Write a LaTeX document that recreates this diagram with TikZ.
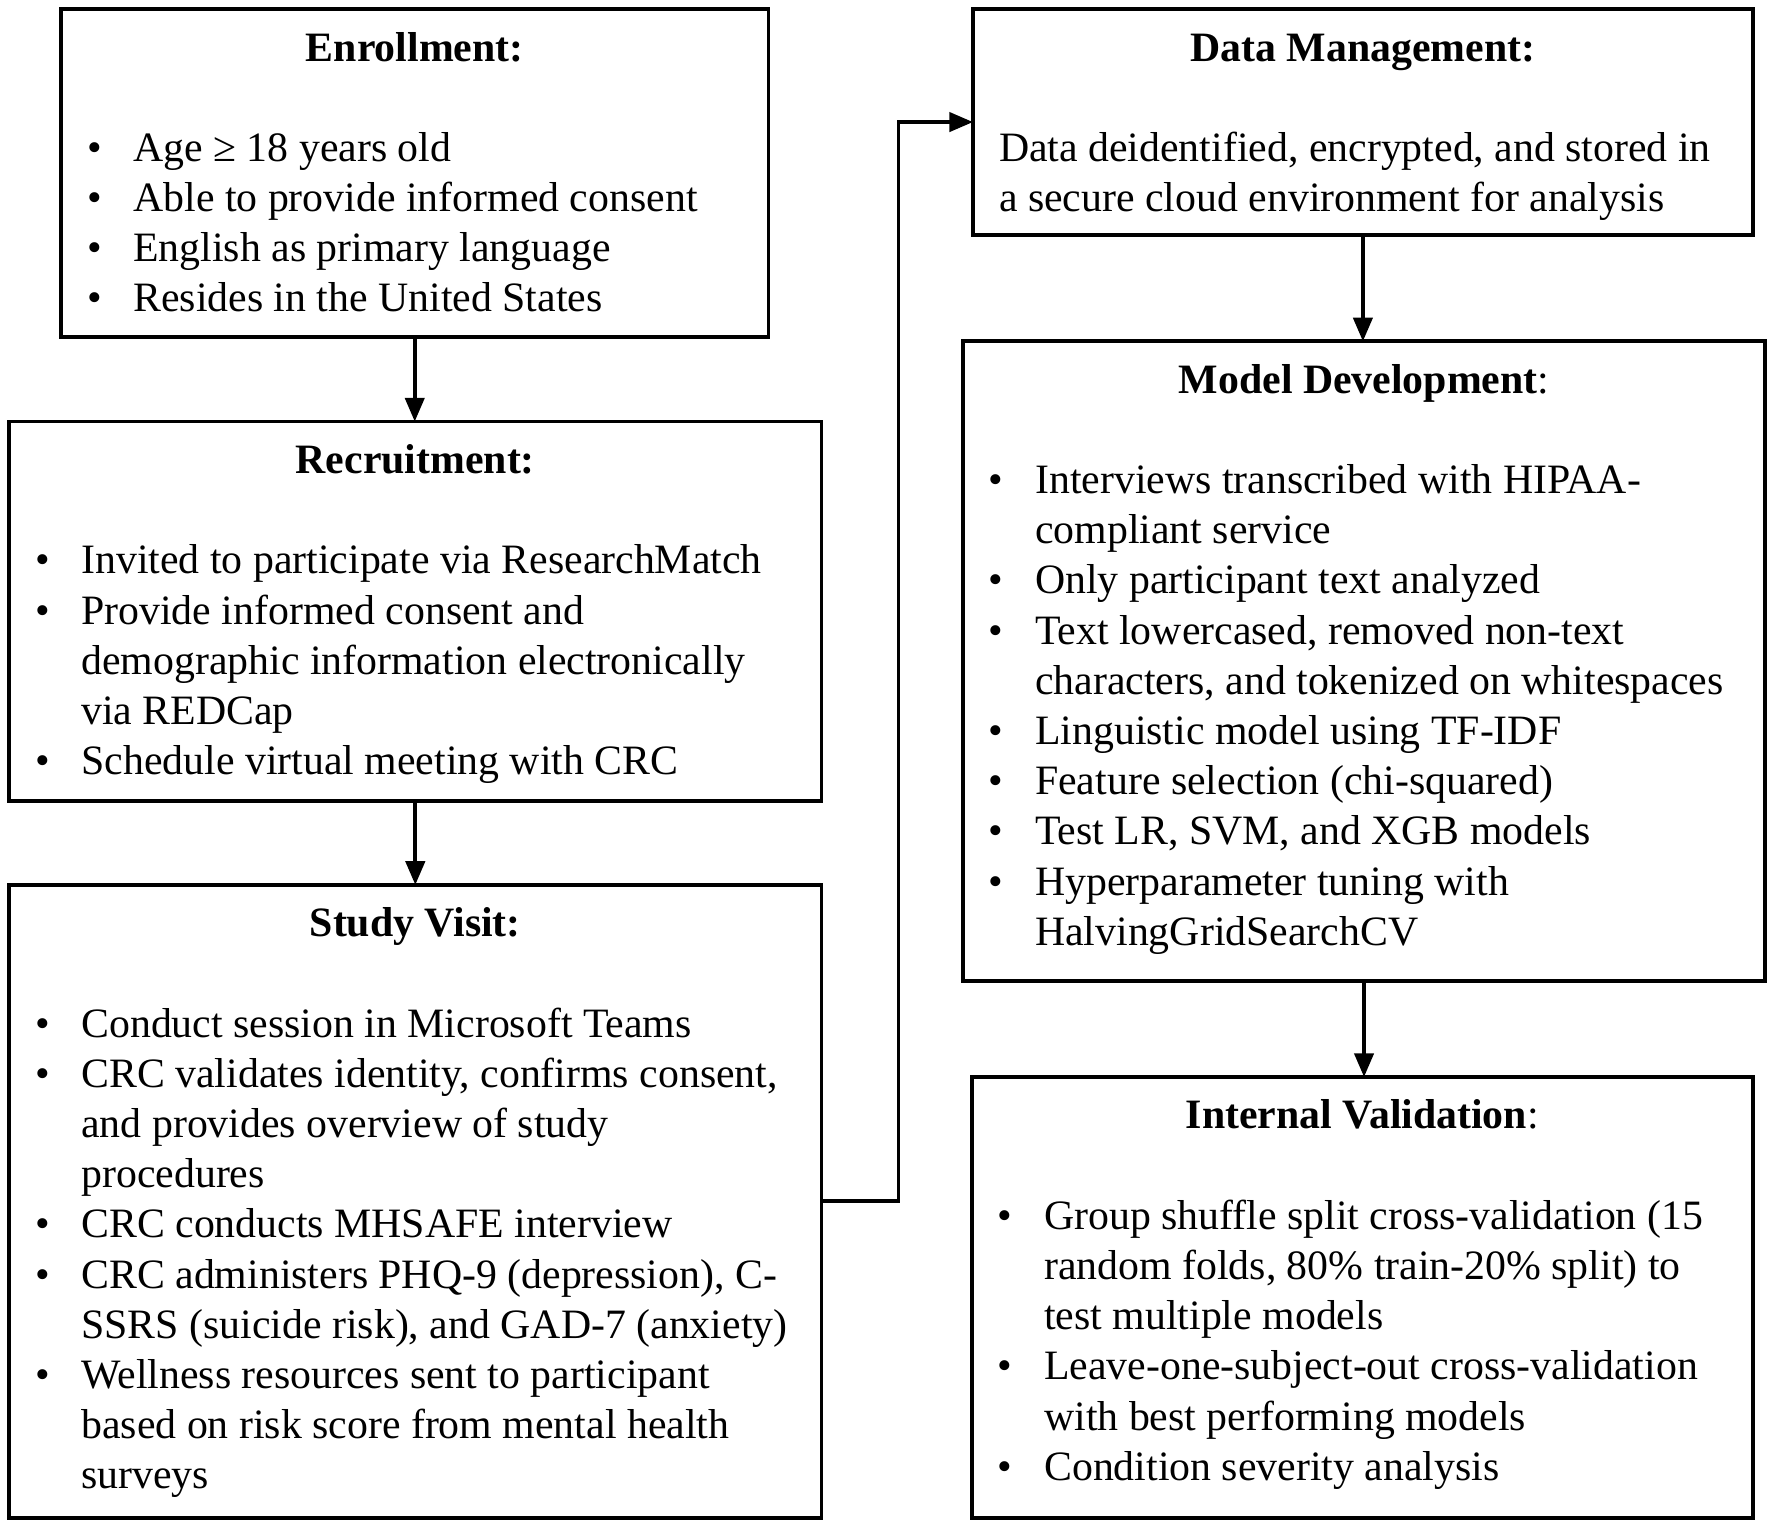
\documentclass[tikz,border=0pt]{standalone}
\usepackage{fontspec}
\setmainfont{Liberation Serif}
\usetikzlibrary{arrows.meta}

\newcommand{\itm}{\par\hangindent=12.3pt\hangafter=1\noindent\makebox[12.3pt][l]{\textbullet}}
\newcommand{\ttl}[1]{\centering\rule{0pt}{13.8pt}#1\par\vspace{\baselineskip}\raggedright}
\newcommand{\boxtext}[3]{\begin{minipage}[c][#2][t]{#1}#3\end{minipage}}

\begin{document}
\begin{tikzpicture}[x=0.3pt, y=-0.3pt,
  box/.style={draw, line width=1pt, anchor=north west, inner xsep=6.9pt, inner ysep=0pt, outer sep=0pt,
    font={\fontsize{11.1pt}{13.32pt}\selectfont}},
  arrow/.style={line width=1pt, -{Triangle[length=6.3pt, width=5.1pt]}}]
  \useasboundingbox (0,0) rectangle (1568,1351);

  \node [box] (enroll) at (54,8) {\boxtext{174pt}{87pt}{\ttl{\textbf{Enrollment:}}
    \itm Age ≥ 18 years old
    \itm Able to provide informed consent
    \itm English as primary language
    \itm Resides in the United States}};

  \node [box] (recruit) at (8,373) {\boxtext{201.9pt}{100.8pt}{\ttl{\textbf{Recruitment:}}
    \itm Invited to participate via ResearchMatch
    \itm Provide informed consent and\newline demographic information electronically\newline via REDCap
    \itm Schedule virtual meeting with CRC}};

  \node [box] (visit) at (8,783) {\boxtext{201.9pt}{168pt}{\ttl{\textbf{Study Visit:}}
    \itm Conduct session in Microsoft Teams
    \itm CRC validates identity, confirms consent,\newline and provides overview of study\newline procedures
    \itm CRC conducts MHSAFE interview
    \itm CRC administers PHQ-9 (depression), C-\newline SSRS (suicide risk), and GAD-7 (anxiety)
    \itm Wellness resources sent to participant\newline based on risk score from mental health\newline surveys}};

  \node [box] (data) at (861,8) {\boxtext{193.2pt}{60pt}{\ttl{\textbf{Data Management:}}
    \noindent Data deidentified, encrypted, and stored in\newline a secure cloud environment for analysis}};

  \node [box] (model) at (852,302) {\boxtext{199.2pt}{169.8pt}{\ttl{\textbf{Model Development}:}
    \itm Interviews transcribed with HIPAA-\newline compliant service
    \itm Only participant text analyzed
    \itm Text lowercased, removed non-text\newline characters, and tokenized on whitespaces
    \itm Linguistic model using TF-IDF
    \itm Feature selection (chi-squared)
    \itm Test LR, SVM, and XGB models
    \itm Hyperparameter tuning with\newline HalvingGridSearchCV}};

  \node [box] (valid) at (860,953) {\boxtext{193.5pt}{117pt}{\ttl{\textbf{Internal Validation}:}
    \itm Group shuffle split cross-validation (15\newline random folds, 80\% train-20\% split) to\newline test multiple models
    \itm Leave-one-subject-out cross-validation\newline with best performing models
    \itm Condition severity analysis}};

  \draw [arrow] (enroll.south) -- (enroll.south |- recruit.north);
  \draw [arrow] (recruit.south) -- (recruit.south |- visit.north);
  \draw [arrow] (visit.east) -- ++(68,0) |- (data.west);
  \draw [arrow] (data.south) -- (data.south |- model.north);
  \draw [arrow] (model.south) -- (model.south |- valid.north);
\end{tikzpicture}
\end{document}
